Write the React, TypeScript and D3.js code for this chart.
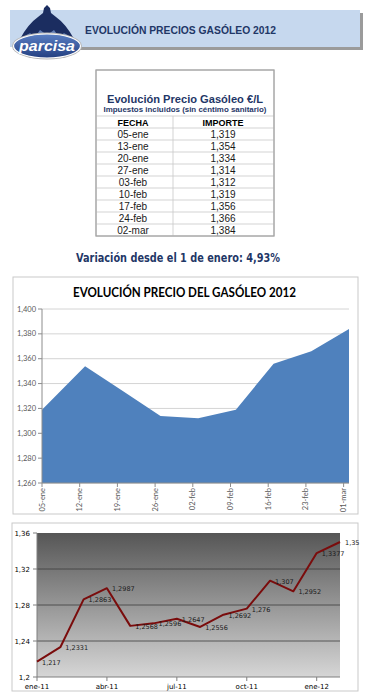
import * as d3 from 'd3';

// weekly prices 2012 (table + area chart)
const weekDates = ['05-ene', '13-ene', '20-ene', '27-ene', '03-feb', '10-feb', '17-feb', '24-feb', '02-mar'];
const weekPrices = [1.319, 1.354, 1.334, 1.314, 1.312, 1.319, 1.356, 1.366, 1.384];
const areaTickLabels = ['05-ene', '12-ene', '19-ene', '26-ene', '02-feb', '09-feb', '16-feb', '23-feb', '01-mar'];
const areaYTicks = [1.26, 1.28, 1.3, 1.32, 1.34, 1.36, 1.38, 1.4];

// monthly prices ene-11 .. feb-12 (line chart)
const months = ['ene-11', 'feb-11', 'mar-11', 'abr-11', 'may-11', 'jun-11', 'jul-11', 'ago-11', 'sep-11', 'oct-11', 'nov-11', 'dic-11', 'ene-12', 'feb-12'];
const monthPrices = [1.217, 1.2331, 1.2863, 1.2987, 1.2568, 1.2596, 1.2647, 1.2556, 1.2692, 1.276, 1.307, 1.2952, 1.3377, 1.35];
const monthTickLabels = ['ene-11', 'abr-11', 'jul-11', 'oct-11', 'ene-12'];
const lineYTicks = [1.2, 1.24, 1.28, 1.32, 1.36];

const variation = '4,93%';

const MES: Record<string, number> = { ene: 0, feb: 1, mar: 2 };
const parseDay = (s: string) => {
  const [d, m] = s.split('-');
  return new Date(2012, MES[m], +d);
};
const es = d3.formatLocale({ decimal: ',', thousands: '.', grouping: [3], currency: ['', '€'] });
const f3 = es.format('.3f');
const comma = (v: number) => String(v).replace('.', ',');

const NAVY = '#1f3767';
const ARIAL = '"Liberation Sans", Arial, sans-serif';
const CALIBRI = 'Lato, "Open Sans", sans-serif';
const VERDANA = '"DejaVu Sans", Verdana, sans-serif';

/* ── logo + banner ───────────────────────────────────────────── */
function Header() {
  return (
    <g>
      <rect x={13} y={13} width={350} height={37} fill="#9b9b9b" />
      <rect x={10} y={10} width={350} height={37} fill="#c6d8ee" />
      <text x={85} y={34} fontFamily={ARIAL} fontWeight="bold" fontSize={11.5} fill={NAVY}
        textLength={191} lengthAdjust="spacingAndGlyphs">EVOLUCIÓN PRECIOS GASÓLEO 2012</text>

      <defs>
        <linearGradient id="pyr" x1="0" y1="0" x2="0" y2="1">
          <stop offset="0%" stopColor="#9fb6df" />
          <stop offset="100%" stopColor="#34559a" />
        </linearGradient>
        <linearGradient id="ovl" x1="0" y1="0" x2="0" y2="1">
          <stop offset="0%" stopColor="#5a7fc4" />
          <stop offset="100%" stopColor="#233f80" />
        </linearGradient>
      </defs>
      <path d="M47 13 L80 44 L14 44 Z" fill="url(#pyr)" />
      <path d="M47 5 L50 8 L51 13 L56 17 Q66 24 74 39 L64 33 L59 37 L54 30 L47 35 L40 30 L35 37 L30 33 L20 39 Q28 24 38 17 L43 13 L44 8 Z"
        fill="#1b2d60" />
      <ellipse cx={47} cy={46} rx={35} ry={13.5} fill="#b8b8b8" />
      <ellipse cx={47} cy={46} rx={33.5} ry={12} fill="url(#ovl)" stroke="#fff" strokeWidth={1.2} />
      <text x={47} y={51} textAnchor="middle" fontFamily={ARIAL} fontStyle="italic" fontWeight="bold"
        fontSize={15} fill="#fff" textLength={56} lengthAdjust="spacingAndGlyphs">parcisa</text>
    </g>
  );
}

/* ── price table ─────────────────────────────────────────────── */
function PriceTable() {
  const x0 = 96, x1 = 274, xm = 173;
  const top = 70, headTop = 116, rowH = 12;
  const bottom = headTop + rowH * (weekDates.length + 1);
  const cellText = { fontFamily: ARIAL, fontSize: 10, textAnchor: 'middle' as const, fill: '#1a1a1a' };
  return (
    <g>
      <rect x={x0} y={top} width={x1 - x0} height={bottom - top} fill="#fff" stroke="#a6a6a6" />
      <text x={185} y={103} textAnchor="middle" fontFamily={ARIAL} fontWeight="bold" fontSize={11.5}
        fill={NAVY} textLength={156} lengthAdjust="spacingAndGlyphs">Evolución Precio Gasóleo €/L</text>
      <text x={185} y={112} textAnchor="middle" fontFamily={ARIAL} fontWeight="bold" fontSize={7.5}
        fill={NAVY} textLength={163} lengthAdjust="spacingAndGlyphs">Impuestos incluidos (sin céntimo sanitario)</text>
      {d3.range(weekDates.length + 1).map(i => (
        <line key={i} x1={x0} x2={x1} y1={headTop + i * rowH} y2={headTop + i * rowH} stroke="#c8c8c8" strokeWidth={0.8} />
      ))}
      <line x1={xm} x2={xm} y1={headTop} y2={bottom} stroke="#c8c8c8" strokeWidth={0.8} />
      <text {...cellText} fontSize={9} x={133} y={headTop + 9.5} fontWeight="bold" fill="#000">FECHA</text>
      <text {...cellText} fontSize={9} x={223} y={headTop + 9.5} fontWeight="bold" fill="#000">IMPORTE</text>
      {weekDates.map((d, i) => (
        <g key={d}>
          <text {...cellText} x={133} y={headTop + (i + 1) * rowH + 10}>{d}</text>
          <text {...cellText} x={223} y={headTop + (i + 1) * rowH + 10}>{f3(weekPrices[i])}</text>
        </g>
      ))}
      <rect x={x0} y={top} width={x1 - x0} height={bottom - top} fill="none" stroke="#a6a6a6" />
    </g>
  );
}

/* ── weekly area chart ───────────────────────────────────────── */
function AreaChart() {
  const dates = weekDates.map(parseDay);
  const x = d3.scaleTime().domain([dates[0], dates[dates.length - 1]]).range([42, 349]);
  const y = d3.scaleLinear().domain([1.26, 1.4]).range([483, 309]);
  const area = d3.area<number>()
    .x((_, i) => x(dates[i]))
    .y0(y(1.26))
    .y1(v => y(v));
  const ticks = areaTickLabels.map(parseDay);
  return (
    <g>
      <rect x={13} y={277} width={345} height={237} fill="#fff" stroke="#c9c9c9" />
      <text x={184.5} y={297} textAnchor="middle" fontFamily={CALIBRI} fontWeight="bold" fontSize={14}
        fill="#000" textLength={223} lengthAdjust="spacingAndGlyphs">EVOLUCIÓN PRECIO DEL GASÓLEO 2012</text>
      {areaYTicks.map(t => (
        <g key={t}>
          <line x1={42} x2={349} y1={y(t)} y2={y(t)} stroke="#d4d4d4" />
          <line x1={38} x2={42} y1={y(t)} y2={y(t)} stroke="#8c8c8c" />
          <text x={36} y={y(t) + 2.5} textAnchor="end" fontFamily={CALIBRI} fontSize={7.5} fill="#595959">{f3(t)}</text>
        </g>
      ))}
      <path d={area(weekPrices) || ''} fill="#4f81bd" />
      <line x1={42} x2={42} y1={309} y2={483} stroke="#8c8c8c" />
      <line x1={42} x2={349} y1={483} y2={483} stroke="#8c8c8c" />
      {ticks.map((t, i) => (
        <g key={i} transform={`translate(${x(t)},483)`}>
          <line y2={4} stroke="#8c8c8c" />
          <text transform="rotate(-90)" x={-5} y={2.5} textAnchor="end" fontFamily={CALIBRI} fontSize={7.5} fill="#595959">
            {areaTickLabels[i]}
          </text>
        </g>
      ))}
    </g>
  );
}

/* ── monthly line chart ──────────────────────────────────────── */
function LineChart() {
  const x = d3.scalePoint<string>().domain(months).range([37, 340]);
  const y = d3.scaleLinear().domain([1.2, 1.36]).range([677, 533]);
  const line = d3.line<number>().x((_, i) => x(months[i])!).y(v => y(v));
  return (
    <g>
      <defs>
        <linearGradient id="plotbg" x1="0" y1="0" x2="0" y2="1">
          <stop offset="0%" stopColor="#565656" />
          <stop offset="100%" stopColor="#d6d6d6" />
        </linearGradient>
      </defs>
      <rect x={12} y={523} width={346} height={168} fill="#fff" stroke="#c9c9c9" />
      <rect x={37} y={533} width={303} height={144} fill="url(#plotbg)" />
      {lineYTicks.map(t => (
        <g key={t}>
          {t > 1.2 && t < 1.36 && <line x1={37} x2={340} y1={y(t)} y2={y(t)} stroke="#3c3c3c" strokeWidth={0.8} />}
          <line x1={33} x2={37} y1={y(t)} y2={y(t)} stroke="#7f7f7f" />
          <text x={30} y={y(t) + 2.5} textAnchor="end" fontFamily={VERDANA} fontSize={7} fill="#000">{comma(t)}</text>
        </g>
      ))}
      <line x1={37} x2={340} y1={677} y2={677} stroke="#7f7f7f" />
      <line x1={37} x2={37} y1={533} y2={677} stroke="#7f7f7f" />
      {monthTickLabels.map(m => (
        <g key={m} transform={`translate(${x(m)},677)`}>
          <line y2={4} stroke="#7f7f7f" />
          <text y={12} textAnchor="middle" fontFamily={VERDANA} fontSize={7} fill="#000">{m}</text>
        </g>
      ))}
      <path d={line(monthPrices) || ''} fill="none" stroke="#7a0c0c" strokeWidth={2} strokeLinejoin="round" />
      {monthPrices.map((v, i) => (
        <text key={i} x={x(months[i])! + 5} y={y(v) + 3} fontFamily={VERDANA} fontSize={6.5} fill="#1a1a1a">
          {comma(v)}
        </text>
      ))}
    </g>
  );
}

export default function App() {
  return (
    <div style={{ position: 'absolute', left: 0, top: 0 }}>
      <svg width={370} height={700} style={{ display: 'block', background: '#fff' }}>
        <Header />
        <PriceTable />
        <text x={178} y={262} textAnchor="middle" fontFamily={VERDANA} fontWeight="bold" fontSize={11.5}
          fill={NAVY} textLength={204} lengthAdjust="spacingAndGlyphs">
          {`Variación desde el 1 de enero:  ${variation}`}
        </text>
        <AreaChart />
        <LineChart />
      </svg>
    </div>
  );
}
